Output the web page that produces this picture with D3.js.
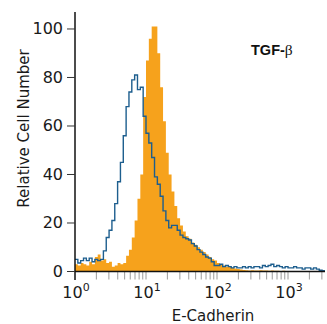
<!DOCTYPE html>
<html><head><meta charset="utf-8">
<script src="https://cdn.jsdelivr.net/npm/d3@7"></script>
<style>
html,body{margin:0;padding:0;background:#fff;}
svg{display:block;}
</style></head>
<body>
<svg id="chart" width="327" height="324"></svg>
<script>
// bins: log10 width 0.04, starting at 10^0
const binWidthLog = 0.04;
const binStartLog = 0;
const tgfValues = [3,2.5,3.5,3,2.5,4,3,6,7,4.5,5,3.5,4,2,2.5,3.5,3,3.5,6.5,9,14,21,30,40,72,87,96,101,101,90,76,62,49,40,33,27,22,19,16.5,14.5,13.5,12,11,10,9,8,7,6,5,4.5,3.5,3,2.5,2,2,1.5,1.2,1,0.8,0.6,0.5,0.4,0.5,0.4,0.4,0.5,0.4,0.4,0.3,0.4,0.3,0.3,0.2,0.3,0.2,0.2,0.2,0.2,0.2,0.2,0.2,0.2,0.2,0.2,0.2,0.2,0.1,0.1];
const controlValues = [5,3.5,4.5,5.5,4.5,5.5,4,5,4.5,5,8.5,14,17,21,28,37,45,56,68,74,79,81,75,76,64,57,53,47,39,36,31,25,21,18,19,19,17,15,14,13.5,13,11.5,10.5,9,8,7,6,5.5,4,2.5,2.5,3,2,2.5,2,1.5,2,1.5,1.5,2,1.5,2,1.5,2,2,1.5,2.5,2,2.5,3,2,2.5,2,1.5,2,1.5,1.5,2,1.5,1.5,1,1.5,1.5,1,1.5,1,0.5,0.3];
const yTicks = [0,20,40,60,80,100];
const xTickExps = [0,1,2,3];
const yDomain = [0,107];
const xDomain = [1, Math.pow(10,3.521)];
const xLabel = "E-Cadherin";
const yLabel = "Relative Cell Number";
const panelTitle = "TGF-";
const panelTitleGreek = "β";

const svg = d3.select("#chart");
const x = d3.scaleLog().domain(xDomain).range([75,325]);
const y = d3.scaleLinear().domain(yDomain).range([271.5, 12]);

function stepPoints(vals){
  const pts = [];
  vals.forEach((v,i)=>{
    const a = Math.pow(10, binStartLog + i*binWidthLog);
    const b = Math.pow(10, binStartLog + (i+1)*binWidthLog);
    pts.push([a,v]); pts.push([Math.min(b,xDomain[1]),v]);
  });
  return pts;
}
const orangePts = stepPoints(tgfValues);
const bluePts = stepPoints(controlValues);

const area = d3.area().x(d=>x(d[0])).y0(y(0)).y1(d=>y(d[1]));
svg.append("path").attr("d", area(orangePts)).attr("fill","#F6A21C");

const line = d3.line().x(d=>x(d[0])).y(d=>y(d[1]));
svg.append("path").attr("d", line(bluePts)).attr("fill","none")
  .attr("stroke","#1d5e8e").attr("stroke-width",1.4).attr("stroke-linejoin","miter");

// x axis minor/major ticks
const allTicks = [];
for(let e=0;e<=3;e++){ for(let m=1;m<=9;m++){ const v=m*Math.pow(10,e); if(v>1 && v<=xDomain[1]) allTicks.push(v);} }
svg.append("g").selectAll("line").data(allTicks).join("line")
  .attr("x1",d=>x(d)).attr("x2",d=>x(d)).attr("y1",y(0)).attr("y2",y(0)+8)
  .attr("stroke","#9a9a9a").attr("stroke-width",1);

// x axis line
svg.append("line").attr("x1",x(xDomain[0])).attr("x2",x(xDomain[1])).attr("y1",y(0)).attr("y2",y(0))
  .attr("stroke","#111").attr("stroke-width",1.5);
// y axis line (extends below as the 10^0 tick)
svg.append("line").attr("x1",75).attr("x2",75).attr("y1",y(yDomain[1])).attr("y2",y(0)+8.5)
  .attr("stroke","#111").attr("stroke-width",1.5);

// y ticks
const yg = svg.append("g");
yg.selectAll("line").data(yTicks).join("line")
  .attr("x1",67).attr("x2",75).attr("y1",d=>y(d)).attr("y2",d=>y(d))
  .attr("stroke","#333").attr("stroke-width",1);
yg.selectAll("text").data(yTicks).join("text")
  .attr("x",63).attr("y",d=>y(d)).attr("dy","0.32em")
  .attr("text-anchor","end").attr("font-family","DejaVu Sans").attr("font-size",16).attr("fill","#1a1a1a")
  .text(d=>d);

// x tick labels
const xt = svg.append("g").selectAll("text").data(xTickExps).join("text")
  .attr("x",d=>x(Math.pow(10,d))+1).attr("y",298)
  .attr("text-anchor","middle").attr("font-family","DejaVu Sans").attr("font-size",16).attr("fill","#1a1a1a");
xt.append("tspan").text("10");
xt.append("tspan").attr("dy",-7).attr("font-size",11).text(d=>d);

// axis labels
svg.append("text").attr("x",213).attr("y",321).attr("text-anchor","middle")
  .attr("font-family","DejaVu Sans").attr("font-size",15).attr("fill","#1a1a1a").text(xLabel);
svg.append("text").attr("transform","translate(28.5,128.5) rotate(-90)").attr("text-anchor","middle")
  .attr("font-family","DejaVu Sans").attr("font-size",15).attr("fill","#1a1a1a").text(yLabel);

// panel title
const t = svg.append("text").attr("x",251).attr("y",55)
  .attr("font-family","Liberation Sans").attr("font-weight","bold").attr("font-size",14.5).attr("fill","#111");
t.append("tspan").text(panelTitle);
t.append("tspan").attr("font-family","Liberation Serif").attr("font-weight","normal").attr("font-size",15.5).text(panelTitleGreek);
</script>
</body></html>
